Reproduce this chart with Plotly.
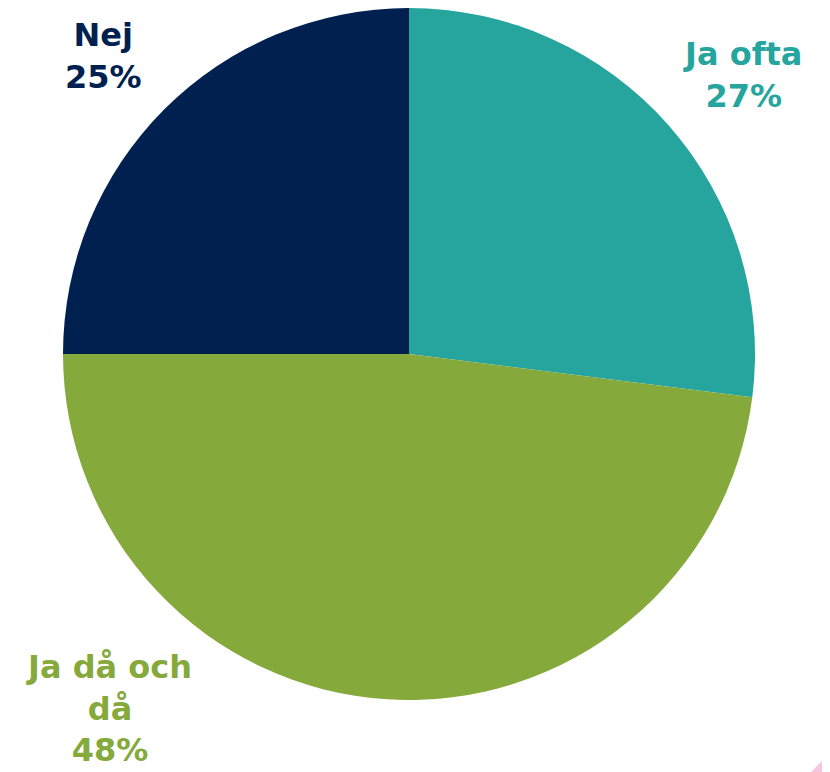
import plotly.graph_objects as go

labels = ["Ja ofta", "Ja då och då", "Nej"]
values = [27, 48, 25]
colors = ["#26A59F", "#86A93C", "#00214F"]
label_texts = ["Ja ofta<br>27%", "Ja då och<br>då<br>48%", "Nej<br>25%"]

OFF = 8  # page offset of the figure inside the browser window
W, H = 830 - OFF, 772 - OFF
cx, cy, r = 409 - OFF, 354 - OFF, 346

fig = go.Figure(go.Pie(
    labels=labels, values=values, sort=False, direction="clockwise", rotation=0,
    marker=dict(colors=colors, line=dict(width=0)),
    textinfo="none", hoverinfo="label+percent", showlegend=False,
    domain=dict(x=[(cx - r) / W, (cx + r) / W], y=[(H - cy - r) / H, (H - cy + r) / H]),
))

label_pos = [(742, 75), (109, 708), (103, 56)]
for txt, col, (x, y) in zip(label_texts, colors, label_pos):
    fig.add_annotation(
        x=(x - OFF) / W, y=1 - (y - OFF) / H, xref="paper", yref="paper", text=txt,
        showarrow=False, xanchor="center", yanchor="middle", align="center",
        font=dict(family="DejaVu Sans", size=32, color=col, weight="bold"),
    )

fig.add_shape(type="path", xref="paper", yref="paper",
              path=f"M {(811-OFF)/W} 0 L 1 0 L 1 {1-(753-OFF)/H} Z",
              fillcolor="#F7C6E0", line=dict(width=0))

fig.update_layout(width=W, height=H, margin=dict(l=0, r=0, t=0, b=0),
                  paper_bgcolor="white", plot_bgcolor="white")
fig.write_html("out.html")
